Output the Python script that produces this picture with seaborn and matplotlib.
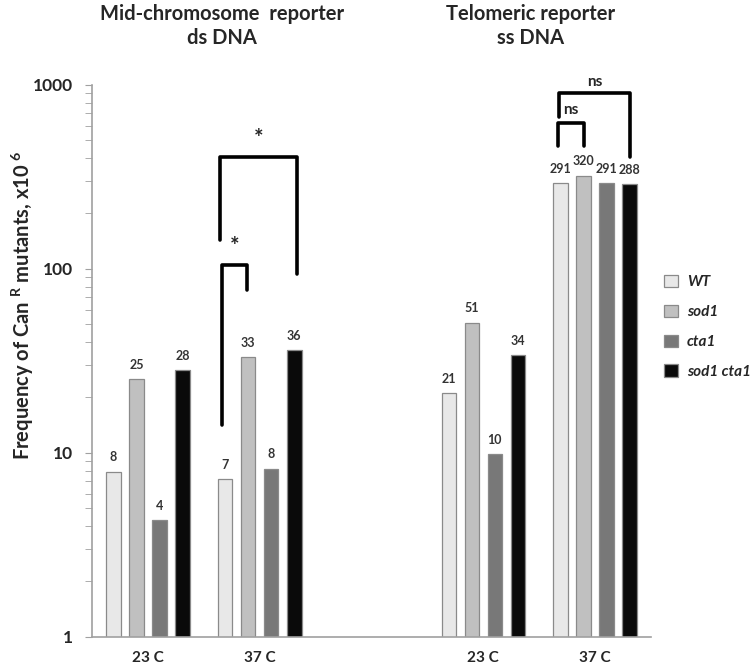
import numpy as np
import pandas as pd
import matplotlib
matplotlib.use("Agg")
import matplotlib.pyplot as plt
from matplotlib.patches import Patch
import seaborn as sns

# --- data ---
conditions = ["mid_23", "mid_37", "tel_23", "tel_37"]
order = ["mid_23", "mid_37", "gap", "tel_23", "tel_37"]
tick_labels = ["23 C", "37 C", "", "23 C", "37 C"]
strains = ["WT", "sod1", "cta1", "sod1 cta1"]
mid_23 = [7.9, 25, 4.3, 28]
mid_37 = [7.2, 33, 8.2, 36]
tel_23 = [21, 51, 9.8, 34]
tel_37 = [291, 320, 291, 288]
colors = ["#e8e8e8", "#c0c0c0", "#787878", "#0a0a0a"]

rows = []
for cond, vals in zip(conditions, [mid_23, mid_37, tel_23, tel_37]):
    for s, v in zip(strains, vals):
        rows.append({"condition": cond, "strain": s, "freq": v})
df = pd.DataFrame(rows)

sns.set_style("white")
plt.rcParams["font.family"] = ["Lato", "DejaVu Sans"]
plt.rcParams["mathtext.fontset"] = "custom"
plt.rcParams["mathtext.rm"] = "Lato"
plt.rcParams["mathtext.bf"] = "Lato:bold"

fig = plt.figure(figsize=(7.5, 6.7), dpi=100)
ax = fig.add_axes([0.1227, 0.0497, 0.7453, 0.8239])

sns.barplot(data=df, x="condition", y="freq", hue="strain", order=order,
            hue_order=strains, palette=colors, width=0.824, gap=0.37,
            edgecolor="#8a8a8a", linewidth=0.9, errorbar=None, legend=False, ax=ax)

ax.set_yscale("log")
ax.set_ylim(1, 1000)
ax.set_xlim(-0.5, 4.5)

# value labels
for cont in ax.containers:
    ax.bar_label(cont, fmt="{:.0f}", padding=6, fontsize=9, fontweight="bold", color="#333333")

# axes styling
for side in ["top", "right"]:
    ax.spines[side].set_visible(False)
for side in ["left", "bottom"]:
    ax.spines[side].set_color("#a0a0a0")
    ax.spines[side].set_linewidth(1.2)
ax.set_xticks(range(5))
ax.set_xticklabels(tick_labels, fontsize=11, fontweight="bold")
ax.tick_params(axis="x", length=0, pad=10)
ax.set_yticks([1, 10, 100, 1000])
ax.set_yticklabels(["1", "10", "100", "1000"], fontsize=12.5, fontweight="bold")
ax.tick_params(axis="y", which="both", direction="out", length=5, color="#a0a0a0",
               left=True, pad=9)
ax.set_xlabel("")
ax.set_ylabel(r"Frequency of Can $^{\mathbf{R}}$ mutants, x10 $^{\mathbf{6}}$",
              fontsize=14.5, fontweight="bold")
ax.yaxis.set_label_coords(-0.1, 0.6)


# significance brackets
def centre(cond_idx, strain_idx):
    p = ax.containers[strain_idx][cond_idx]
    return p.get_x() + p.get_width() / 2


def bracket(x1, x2, y_left, y_top, y_right, text, ty, tsize):
    ax.plot([x1, x1, x2, x2], [y_left, y_top, y_top, y_right], color="black",
            lw=2.6, solid_joinstyle="round", clip_on=False)
    ax.text((x1 + x2) / 2, ty, text, ha="center", va="center", fontsize=tsize,
            fontweight="bold", clip_on=False)


bracket(centre(1, 0) - 0.045, centre(1, 3) + 0.024, 143, 403, 94, "*", 510, 16)
bracket(centre(1, 0) - 0.028, centre(1, 1) - 0.01, 14.2, 105, 76.6, "*", 132, 16)
bracket(centre(3, 0) - 0.012, centre(3, 3), 667, 905, 406, "ns", 1030, 11)
bracket(centre(3, 0) - 0.02, centre(3, 1), 464, 621, 464, "ns", 730, 11)

# titles
fig.text(222 / 750, 1 - 4 / 670, "Mid-chromosome  reporter\nds DNA", ha="center",
         va="top", fontsize=14.5, fontweight="bold", linespacing=1.25)
fig.text(531 / 750, 1 - 4 / 670, "Telomeric reporter\nss DNA", ha="center",
         va="top", fontsize=14.5, fontweight="bold", linespacing=1.25)

# legend
handles = [Patch(facecolor=c, edgecolor="#8a8a8a", linewidth=0.9) for c in colors]
fig.legend(handles, strains, loc="upper left", bbox_to_anchor=(650 / 750, 1 - 261 / 670),
           frameon=False, prop={"size": 11, "weight": "bold", "style": "italic"},
           handlelength=0.9, handleheight=0.9, labelspacing=1.0, handletextpad=0.6)

fig.savefig("out.png", dpi=100)
